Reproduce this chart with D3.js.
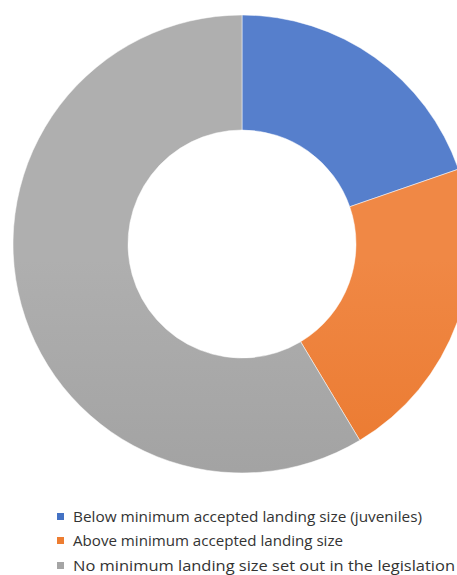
<!DOCTYPE html>
<html lang="en">
<head>
  <meta charset="UTF-8">
  <title>Donut chart</title>
  <script src="https://d3js.org/d3.v7.min.js"></script>
  <style>
    body { margin: 0; background: #fff; }
  </style>
</head>
<body>
  <div id="chart"></div>

  <script>
    // data (share of total, %)
    const categories = [
      "Below minimum accepted landing size (juveniles)",
      "Above minimum accepted landing size",
      "No minimum landing size set out in the legislation"
    ];
    const values = [19.7, 21.7, 58.6];
    const colors = ["#4472C4", "#ED7D31", "#A5A5A5"];
    // gradient ends (top, bottom) for the slices
    const gradTop = ["#567fcc", "#f08845", "#afafaf"];
    const gradBot = ["#2f5fbd", "#e56a18", "#959595"];

    const width = 457, height = 575;
    const cx = 242, cy = 244, rOuter = 229, rInner = 114;

    const svg = d3.select("#chart").append("svg")
      .attr("width", width)
      .attr("height", height);

    const defs = svg.append("defs");
    colors.forEach((c, i) => {
      const g = defs.append("linearGradient")
        .attr("id", "grad" + i)
        .attr("gradientUnits", "userSpaceOnUse")
        .attr("x1", 0).attr("y1", cy - rOuter)
        .attr("x2", 0).attr("y2", cy + rOuter);
      g.append("stop").attr("offset", "0%").attr("stop-color", gradTop[i]);
      g.append("stop").attr("offset", "100%").attr("stop-color", gradBot[i]);
    });

    const pie = d3.pie().sort(null).value(d => d);
    const arc = d3.arc().innerRadius(rInner).outerRadius(rOuter);

    svg.append("g")
      .attr("transform", `translate(${cx},${cy})`)
      .selectAll("path")
      .data(pie(values))
      .join("path")
      .attr("d", arc)
      .attr("fill", (d, i) => `url(#grad${i})`)
      .attr("stroke", "#fff")
      .attr("stroke-width", 0.5);

    // legend
    const legend = svg.append("g").attr("transform", "translate(57,0)");
    const rowY = [517, 541, 566];

    const rows = legend.selectAll("g")
      .data(categories)
      .join("g")
      .attr("transform", (d, i) => `translate(0,${rowY[i]})`);

    rows.append("rect")
      .attr("x", 0).attr("y", -4)
      .attr("width", 7).attr("height", 7)
      .attr("fill", (d, i) => colors[i]);

    // widths of the original narrow typeface
    const targetW = [349, 270, 382];
    rows.append("text")
      .attr("x", 16)
      .attr("y", 0)
      .attr("dy", "0.35em")
      .attr("fill", "#333")
      .attr("textLength", (d, i) => targetW[i])
      .attr("lengthAdjust", "spacingAndGlyphs")
      .style("font-family", "'Open Sans', sans-serif")
      .style("font-size", "14.5px")
      .text(d => d);
  </script>
</body>
</html>
